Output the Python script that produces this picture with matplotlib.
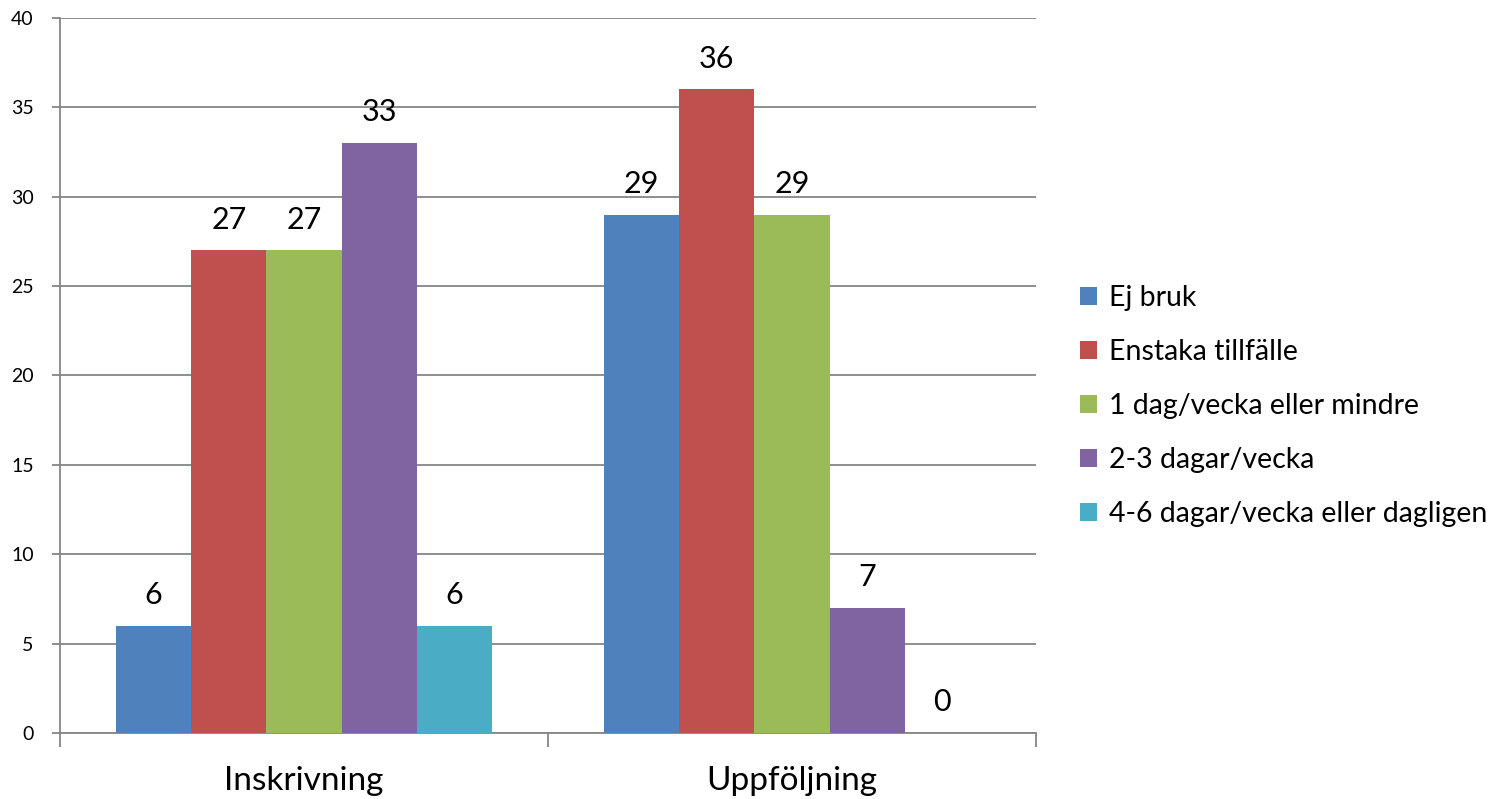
import matplotlib
matplotlib.use("Agg")
import matplotlib.pyplot as plt
import numpy as np

plt.rcParams['font.family'] = ['Lato', 'DejaVu Sans']

categories = ["Inskrivning", "Uppföljning"]
series_names = ["Ej bruk", "Enstaka tillfälle", "1 dag/vecka eller mindre",
                "2-3 dagar/vecka", "4-6 dagar/vecka eller dagligen"]
ej_bruk = [6, 29]
enstaka = [27, 36]
en_dag = [27, 29]
tva_tre = [33, 7]
fyra_sex = [6, 0]
series_values = [ej_bruk, enstaka, en_dag, tva_tre, fyra_sex]
colors = ["#4F81BD", "#C0504D", "#9BBB59", "#8064A2", "#4BACC6"]
y_ticks = [0, 5, 10, 15, 20, 25, 30, 35, 40]

fig = plt.figure(figsize=(15.02, 7.99), dpi=100)
ax = fig.add_axes([0.03995, 0.0826, 0.6498, 0.8949])

x = np.arange(len(categories))
width = 0.154
n = len(series_values)
for i, (name, vals, col) in enumerate(zip(series_names, series_values, colors)):
    offs = (i - (n - 1) / 2) * width
    bars = ax.bar(x + offs, vals, width, color=col, label=name, zorder=3)
    for b, v in zip(bars, vals):
        ax.annotate(str(v), (b.get_x() + b.get_width() / 2, v),
                    xytext=(0, 12), textcoords="offset points",
                    ha="center", va="bottom", fontsize=22, color="#000000")

ax.set_xlim(-0.5, 1.5)
ax.set_ylim(0, 40)
ax.set_yticks(y_ticks)
ax.set_yticklabels([str(t) for t in y_ticks], fontsize=14)
ax.yaxis.grid(True, color="#868686", linewidth=1.3, zorder=0)
ax.set_axisbelow(True)

ax.set_xticks([-0.5, 0.5, 1.5])
ax.set_xticklabels([])
ax.set_xticks(x, minor=True)
ax.set_xticklabels(categories, minor=True, fontsize=24)
ax.tick_params(axis="x", which="minor", length=0, pad=24)
ax.tick_params(axis="x", which="major", length=10, width=1.3, color="#868686", direction="out")
ax.tick_params(axis="y", length=6, width=1.3, color="#868686", direction="out", pad=13)

for s in ["top", "right"]:
    ax.spines[s].set_visible(False)
for s in ["left", "bottom"]:
    ax.spines[s].set_color("#868686")
    ax.spines[s].set_linewidth(1.3)

handles, labels = ax.get_legend_handles_labels()
fig.legend(handles, labels, loc="center left", bbox_to_anchor=(0.702, 0.492),
           frameon=False, fontsize=20.5, handlelength=0.6, handleheight=0.6,
           handletextpad=0.4, labelspacing=0.98)

fig.savefig("out.png", dpi=100)
